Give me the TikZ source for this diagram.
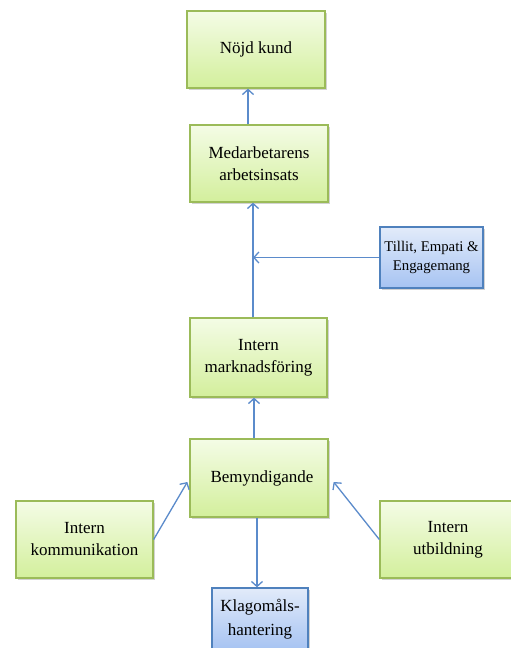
\documentclass[tikz,border=0pt]{standalone}
\usepackage{fontspec}
\setmainfont{Liberation Serif}
\usetikzlibrary{arrows.meta,shadows}
\definecolor{gborder}{HTML}{9BBB59}
\definecolor{gtop}{HTML}{F4FCE6}
\definecolor{gbot}{HTML}{D3EF9C}
\definecolor{bborder}{HTML}{4F81BD}
\definecolor{btop}{HTML}{E2EBFA}
\definecolor{bbot}{HTML}{A6C3F2}
\definecolor{lineblue}{HTML}{5B8BCB}
\tikzset{
  gbox/.style={draw=gborder, line width=1.3pt, top color=gtop, bottom color=gbot,
    align=center, inner sep=0pt, font=\fontsize{17}{22}\selectfont,
    drop shadow={shadow xshift=2pt, shadow yshift=-2pt, opacity=0.35}},
  bbox/.style={draw=bborder, line width=1.3pt, top color=btop, bottom color=bbot,
    align=center, inner sep=0pt,
    drop shadow={shadow xshift=2pt, shadow yshift=-2pt, opacity=0.35}},
  arr/.style={draw=lineblue, line width=1.3pt, -{Straight Barb[length=5pt,width=11pt]}}
}
\begin{document}
\begin{tikzpicture}[x=1pt,y=-1pt]
\useasboundingbox (0,0) rectangle (511,648);
\clip (0,0) rectangle (511,648);
\fill[white] (0,0) rectangle (511,648);
\node[gbox, minimum width=138pt, minimum height=77pt] (nk) at (256,49.5) {Nöjd kund};
\node[gbox, minimum width=138pt, minimum height=77pt] (ma) at (259,163.5) {Medarbetarens\\arbetsinsats};
\node[bbox, minimum width=103pt, minimum height=61pt, font=\fontsize{14.8}{19}\selectfont] (ti) at (431.5,257.5) {Tillit, Empati \&\\Engagemang};
\node[gbox, minimum width=137pt, minimum height=79pt] (im) at (258.5,357.5) {Intern\\marknadsföring};
\node[gbox, minimum width=138pt, minimum height=78pt] (bm) at (259,478) {\hspace{6pt}Bemyndigande};
\node[gbox, minimum width=137pt, minimum height=77pt] (ik) at (84.5,539.5) {Intern\\kommunikation};
\node[gbox, minimum width=136pt, minimum height=77pt] (iu) at (448,539.5) {Intern\\utbildning};
\node[bbox, minimum width=96pt, minimum height=62pt, font=\fontsize{17}{24}\selectfont] (kl) at (260,619) {Klagomåls-\\hantering};
\coordinate (x1) at (248,0);
\coordinate (x2) at (253,0);
\coordinate (x4) at (254,0);
\coordinate (x5) at (257,0);
\draw[arr] (ma.north -| x1) -- (nk.south -| x1);
\draw[arr] (im.north -| x2) -- (ma.south -| x2);
\draw[arr] (ti.west) -- (ti.west -| x2);
\draw[arr] (bm.north -| x4) -- (im.south -| x4);
\draw[arr] (bm.south -| x5) -- (kl.north -| x5);
\draw[arr] (ik.east) -- ([xshift=-2pt,yshift=-4pt]bm.west);
\draw[arr] (iu.west) -- ([xshift=5pt,yshift=-4pt]bm.east);
\end{tikzpicture}
\end{document}
